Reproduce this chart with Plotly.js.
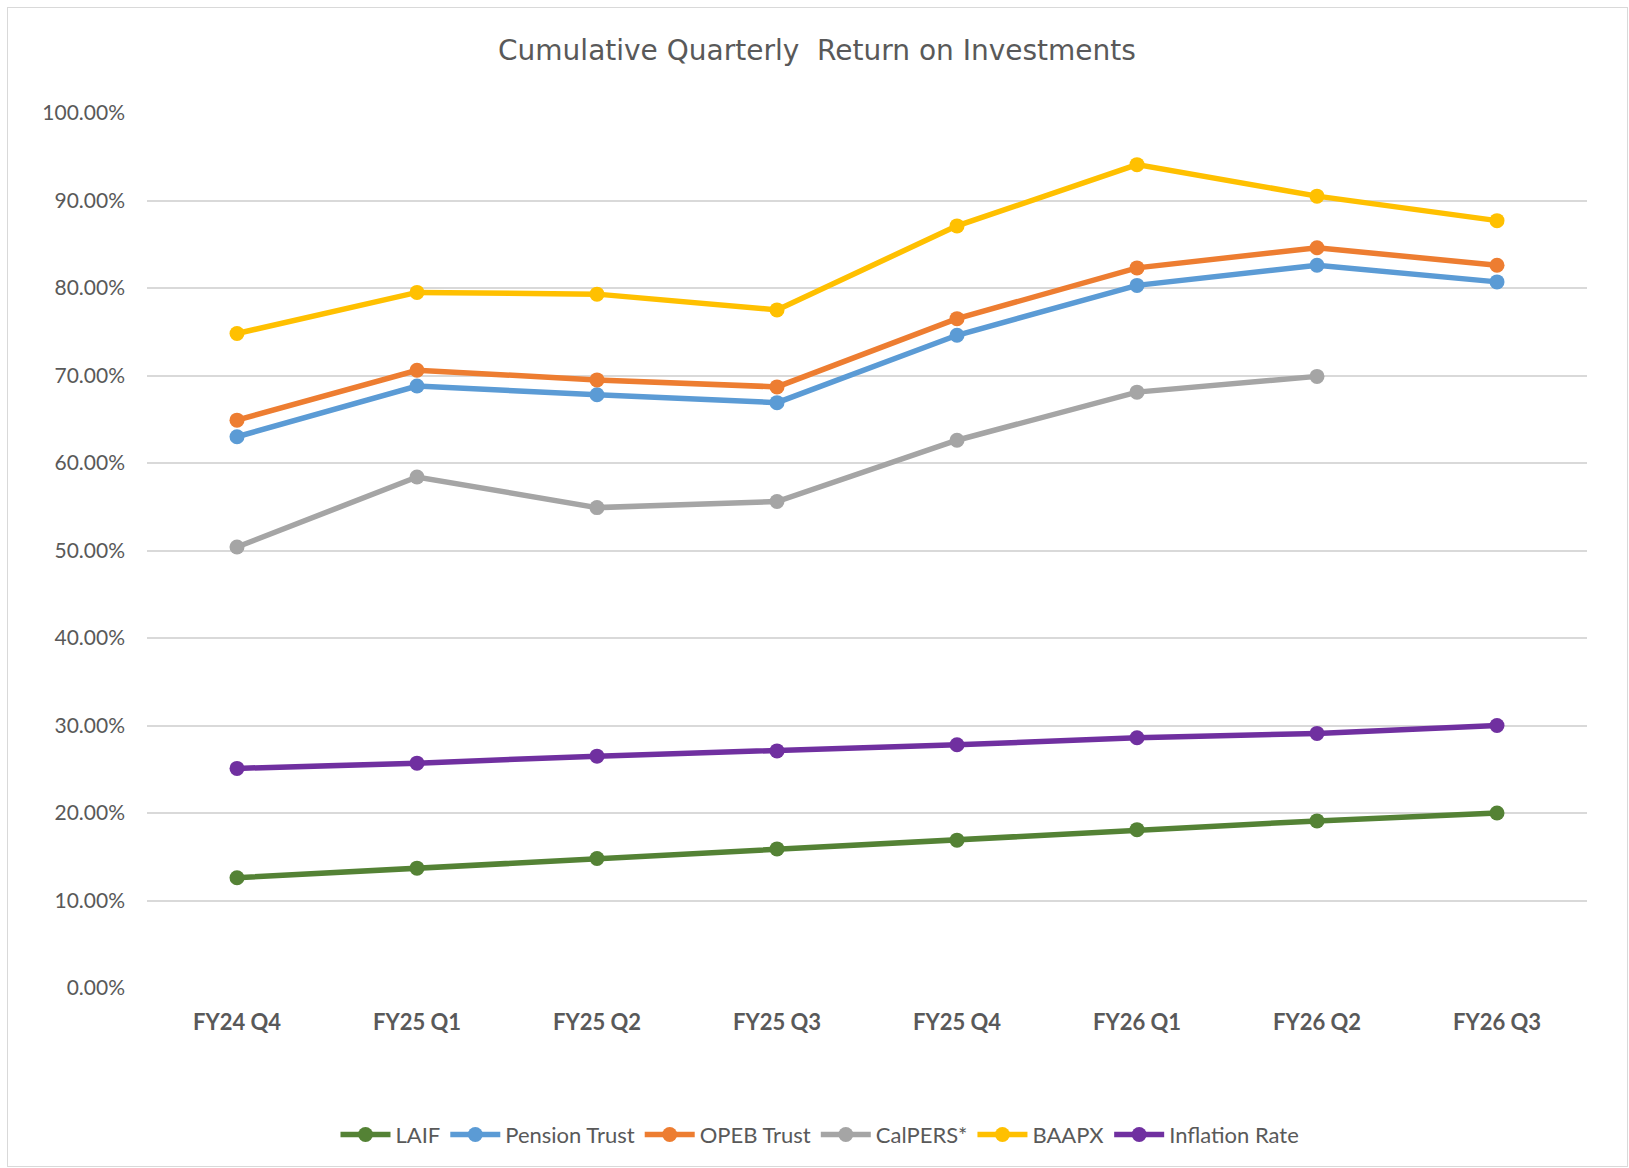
<!DOCTYPE html>
<html>
<head>
<meta charset="utf-8">
<script src="https://cdn.plot.ly/plotly-3.0.1.min.js"></script>
<style>
  html, body { margin: 0; padding: 0; background: #ffffff; }
  #wrap { position: absolute; left: 0; top: 0; width: 1629px; height: 1168px; }
  #frame { position: absolute; left: 7px; top: 7px; width: 1621px; height: 1160px; border: 1.5px solid #d9d9d9; box-sizing: border-box; pointer-events: none; }
  #chart { position: absolute; left: 0; top: 0; width: 1629px; height: 1168px; }
</style>
</head>
<body>
<div id="wrap">
  <div id="chart"></div>
  <div id="frame"></div>
</div>
<script>
const categories = ["FY24 Q4", "FY25 Q1", "FY25 Q2", "FY25 Q3", "FY25 Q4", "FY26 Q1", "FY26 Q2", "FY26 Q3"];

const laif       = [0.126, 0.137, 0.148, 0.159, 0.169, 0.181, 0.191, 0.200];
const pension    = [0.630, 0.688, 0.678, 0.669, 0.746, 0.803, 0.826, 0.807];
const opeb       = [0.649, 0.706, 0.695, 0.687, 0.765, 0.823, 0.846, 0.826];
const calpers    = [0.504, 0.584, 0.549, 0.556, 0.626, 0.681, 0.699, null];
const baapx      = [0.748, 0.795, 0.793, 0.775, 0.871, 0.941, 0.905, 0.877];
const inflation  = [0.251, 0.257, 0.265, 0.271, 0.278, 0.286, 0.291, 0.300];

const seriesNames  = ["LAIF", "Pension Trust", "OPEB Trust", "CalPERS*", "BAAPX", "Inflation Rate"];
const seriesValues = [laif, pension, opeb, calpers, baapx, inflation];
const seriesColors = ["#548235", "#5b9bd5", "#ed7d31", "#a5a5a5", "#ffc000", "#7030a0"];

const FONT = "Lato, 'Open Sans', 'Liberation Sans', sans-serif";

const traces = seriesNames.map((name, i) => ({
  type: "scatter",
  mode: "lines+markers",
  name: name,
  x: categories,
  y: seriesValues[i],
  line: { color: seriesColors[i], width: 5.5 },
  marker: { color: seriesColors[i], size: 15 },
  connectgaps: false,
  hoverinfo: "x+y+name"
}));

const layout = {
  width: 1629,
  height: 1168,
  paper_bgcolor: "#ffffff",
  plot_bgcolor: "#ffffff",
  margin: { l: 147, r: 42, t: 113, b: 178, pad: 0 },
  title: {
    text: "Cumulative Quarterly  Return on Investments",
    font: { family: "'DejaVu Sans', Verdana, sans-serif", size: 28, color: "#595959" },
    x: 0.5015, xref: "container", xanchor: "center",
    y: 1 - 50 / 1168, yref: "container", yanchor: "middle"
  },
  xaxis: {
    type: "category",
    range: [-0.5, 7.5],
    showgrid: false,
    zeroline: false,
    showline: false,
    ticks: "",
    tickfont: { family: FONT, size: 22, color: "#595959", weight: "bold" },
    ticklabelstandoff: 19,
    fixedrange: true
  },
  yaxis: {
    range: [0, 1],
    dtick: 0.1,
    tick0: 0,
    tickformat: ".2%",
    showgrid: true,
    gridcolor: "#d9d9d9",
    gridwidth: 1.5,
    zeroline: false,
    showline: false,
    ticks: "",
    tickfont: { family: FONT, size: 21, color: "#595959" },
    ticklabelstandoff: 21,
    fixedrange: true
  },
  showlegend: true,
  legend: {
    orientation: "h",
    x: (820 - 147) / 1440,
    xanchor: "center",
    y: (990 - 1137) / 877,
    yanchor: "middle",
    font: { family: FONT, size: 22, color: "#595959" },
    itemwidth: 50,
    traceorder: "normal",
    bgcolor: "rgba(0,0,0,0)"
  },
  hovermode: "closest"
};

Plotly.newPlot("chart", traces, layout, { displayModeBar: false, staticPlot: false });
</script>
</body>
</html>
